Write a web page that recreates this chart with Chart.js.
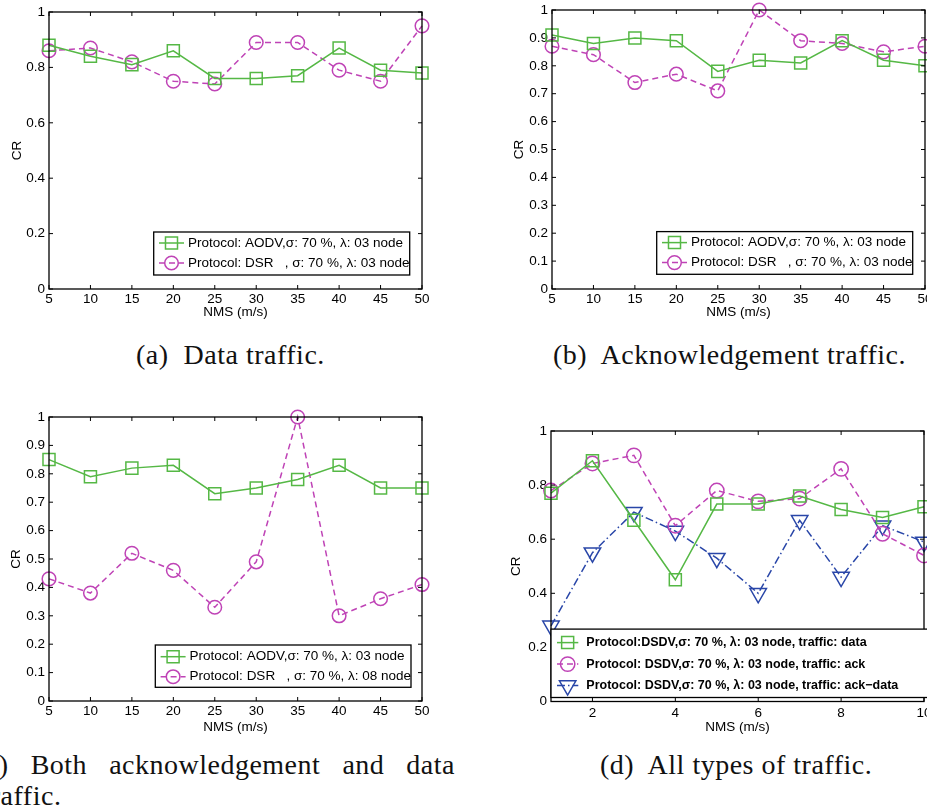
<!DOCTYPE html>
<html>
<head>
<meta charset="utf-8">
<script src="https://cdn.jsdelivr.net/npm/chart.js@4.4.1/dist/chart.umd.min.js"></script>
<style>
  html, body { margin: 0; padding: 0; background: #fff; }
  body { width: 927px; height: 811px; overflow: hidden; position: relative; }
  canvas { position: absolute; }
  .cap {
    position: absolute;
    font-family: 'Liberation Serif', 'Times New Roman', serif;
    font-size: 28px;
    line-height: 28px;
    letter-spacing: 0.5px;
    white-space: pre;
    color: #111;
  }
  #cap-c1 { text-align: justify; text-align-last: justify; white-space: normal; }
</style>
</head>
<body>
<div class="cap" style="left:136px;top:341px">(a)  Data traffic.</div>
<div class="cap" style="left:553px;top:341px">(b)  Acknowledgement traffic.</div>
<div class="cap" id="cap-c1" style="left:-24px;top:751px;width:479px">(c) Both acknowledgement and data</div>
<div class="cap" style="left:-17.5px;top:782px">traffic.</div>
<div class="cap" style="left:600px;top:751px">(d)  All types of traffic.</div>
<script>
// x values / ticks
const nms = [5, 10, 15, 20, 25, 30, 35, 40, 45, 50];
const nmsTicks = [5, 10, 15, 20, 25, 30, 35, 40, 45, 50];
const steps = [1, 2, 3, 4, 5, 6, 7, 8, 9, 10];
const stepTicks = [2, 4, 6, 8, 10];
const crTicks = [0, 0.2, 0.4, 0.6, 0.8, 1];
const crTicksFine = [0, 0.1, 0.2, 0.3, 0.4, 0.5, 0.6, 0.7, 0.8, 0.9, 1];

// (a) data traffic
const dataAodv = [0.88, 0.84, 0.81, 0.86, 0.76, 0.76, 0.77, 0.87, 0.79, 0.78];
const dataDsr = [0.86, 0.87, 0.82, 0.75, 0.74, 0.89, 0.89, 0.79, 0.75, 0.95];
// (b) acknowledgement traffic
const ackAodv = [0.91, 0.88, 0.90, 0.89, 0.78, 0.82, 0.81, 0.89, 0.82, 0.80];
const ackDsr = [0.87, 0.84, 0.74, 0.77, 0.71, 1.00, 0.89, 0.88, 0.85, 0.87];
// (c) both
const bothAodv = [0.85, 0.79, 0.82, 0.83, 0.73, 0.75, 0.78, 0.83, 0.75, 0.75];
const bothDsr = [0.43, 0.38, 0.52, 0.46, 0.33, 0.49, 1.00, 0.30, 0.36, 0.41];
// (d) all types, DSDV
const dsdvData = [0.77, 0.89, 0.67, 0.45, 0.73, 0.73, 0.76, 0.71, 0.68, 0.72];
const dsdvAck = [0.78, 0.88, 0.91, 0.65, 0.78, 0.74, 0.75, 0.86, 0.62, 0.54];
const dsdvAckData = [0.28, 0.55, 0.70, 0.63, 0.53, 0.40, 0.67, 0.46, 0.65, 0.59];

const labelAodv = 'Protocol: AODV,σ: 70 %, λ: 03 node';
const labelDsr3 = 'Protocol: DSR   , σ: 70 %, λ: 03 node';
const labelDsr8 = 'Protocol: DSR   , σ: 70 %, λ: 08 node';
const labelsD = [
  'Protocol:DSDV,σ: 70 %, λ: 03 node, traffic: data',
  'Protocol: DSDV,σ: 70 %, λ: 03 node, traffic: ack',
  'Protocol: DSDV,σ: 70 %, λ: 03 node, traffic: ack−data',
];

const GREEN = '#55b845';
const MAGENTA = '#bf43b6';
const BLUE = '#2946a8';

Chart.defaults.font.family = "'Liberation Sans', Arial, sans-serif";
Chart.defaults.font.size = 13.5;
Chart.defaults.color = '#000';

const squareStyle = { color: GREEN, dash: [], point: 'rect', r: 8.5, rot: 0 };
const circleStyle = { color: MAGENTA, dash: [6, 4], point: 'circle', r: 6.8, rot: 0 };
const triStyle = { color: BLUE, dash: [8, 3, 1.5, 3], point: 'triangle', r: 9.5, rot: 180 };

const series = (label, xs, ys, st) => ({
  label,
  data: xs.map((x, i) => ({ x, y: ys[i] })),
  borderColor: st.color,
  borderWidth: 1.5,
  borderDash: st.dash,
  pointStyle: st.point,
  pointRadius: st.r,
  pointHoverRadius: st.r,
  pointRotation: st.rot,
  pointBorderColor: st.color,
  pointBackgroundColor: 'rgba(0,0,0,0)',
  pointBorderWidth: 1.5,
  tension: 0,
  fill: false,
  clip: false,
});

// inward ticks, box frame and a matlab-like legend box
const frame = {
  id: 'frame',
  afterDatasetsDraw(chart) {
    const { ctx, chartArea: a, scales: { x, y } } = chart;
    ctx.save();
    ctx.strokeStyle = '#000';
    ctx.lineWidth = 1;
    ctx.beginPath();
    x.ticks.forEach((t) => {
      const px = x.getPixelForValue(t.value);
      ctx.moveTo(px, a.bottom); ctx.lineTo(px, a.bottom - 4);
      ctx.moveTo(px, a.top); ctx.lineTo(px, a.top + 4);
    });
    y.ticks.forEach((t) => {
      const py = y.getPixelForValue(t.value);
      ctx.moveTo(a.left, py); ctx.lineTo(a.left + 4, py);
      ctx.moveTo(a.right, py); ctx.lineTo(a.right - 4, py);
    });
    ctx.stroke();
    ctx.lineWidth = 1.3;
    ctx.strokeRect(a.left, a.top, a.right - a.left, a.bottom - a.top);
    ctx.restore();
  },
  afterDraw(chart, args, opts) {
    const L = opts.legend;
    if (!L) return;
    const { ctx, chartArea: a } = chart;
    const left = L.left != null ? a.left + L.left : a.right - L.right - L.width;
    const top = a.bottom - L.bottom - L.height;
    ctx.save();
    ctx.fillStyle = '#fff';
    ctx.fillRect(left, top, L.width, L.height);
    ctx.strokeStyle = '#000';
    ctx.lineWidth = 1.3;
    ctx.strokeRect(left, top, L.width, L.height);
    ctx.font = L.font;
    ctx.textBaseline = 'middle';
    ctx.textAlign = 'left';
    chart.data.datasets.forEach((ds, i) => {
      const cy = top + L.firstRow + i * L.rowGap;
      ctx.strokeStyle = ds.borderColor;
      ctx.lineWidth = ds.borderWidth;
      ctx.setLineDash(ds.borderDash);
      ctx.beginPath();
      ctx.moveTo(left + L.lineX, cy);
      ctx.lineTo(left + L.lineX + L.lineLen, cy);
      ctx.stroke();
      ctx.setLineDash([]);
      ctx.fillStyle = 'rgba(0,0,0,0)';
      ctx.lineWidth = ds.pointBorderWidth;
      Chart.helpers.drawPoint(ctx, {
        pointStyle: ds.pointStyle,
        rotation: ds.pointRotation,
        radius: ds.pointRadius,
        borderWidth: ds.pointBorderWidth,
      }, left + L.lineX + L.lineLen / 2, cy);
      ctx.fillStyle = '#000';
      ctx.fillText(ds.label, left + L.textX, cy);
    });
    ctx.restore();
  },
};

function makeChart(g, xRange, xTicks, yTicks, datasets, legend) {
  const canvas = document.createElement('canvas');
  canvas.width = g.width;
  canvas.height = g.height;
  canvas.style.left = g.left + 'px';
  canvas.style.top = g.top + 'px';
  document.body.appendChild(canvas);
  return new Chart(canvas, {
    type: 'line',
    data: { datasets },
    plugins: [frame],
    options: {
      responsive: false,
      animation: false,
      devicePixelRatio: 1,
      layout: { padding: { left: 0, top: g.plotY, right: g.width - g.plotX - g.plotW, bottom: 0 } },
      plugins: { legend: { display: false }, tooltip: { enabled: false }, frame: { legend } },
      scales: {
        x: {
          type: 'linear',
          min: xRange[0],
          max: xRange[1],
          grid: { display: false, drawTicks: false },
          border: { display: false },
          ticks: { padding: g.xTickPad, maxRotation: 0, callback: (v) => String(v) },
          afterBuildTicks: (s) => { s.ticks = xTicks.map((v) => ({ value: v })); },
          afterFit: (s) => {
            s.height = g.height - g.plotY - g.plotH;
            s.paddingLeft = 0; s.paddingRight = 0;
          },
          title: { display: true, text: 'NMS (m/s)', padding: { top: 0, bottom: g.xTitlePad } },
        },
        y: {
          type: 'linear',
          min: 0,
          max: 1,
          grid: { display: false, drawTicks: false },
          border: { display: false },
          ticks: { padding: g.yTickPad, callback: (v) => String(v) },
          afterBuildTicks: (s) => { s.ticks = yTicks.map((v) => ({ value: v })); },
          afterFit: (s) => {
            s.width = g.plotX;
            s.paddingTop = 0; s.paddingBottom = 0;
          },
          title: { display: true, text: 'CR', padding: { top: g.yTitlePad, bottom: 0 } },
        },
      },
    },
  });
}

const legendPair = { font: "13.5px 'Liberation Sans', Arial, sans-serif", lineX: 5.3, lineLen: 25, textX: 34.3, firstRow: 11, rowGap: 20 };

makeChart(
  { left: 0, top: 0, width: 440, height: 320, plotX: 49, plotY: 12, plotW: 373, plotH: 277, xTickPad: 2, yTickPad: 4, xTitlePad: 0, yTitlePad: 9 },
  [5, 50], nmsTicks, crTicks,
  [series(labelAodv, nms, dataAodv, squareStyle), series(labelDsr3, nms, dataDsr, circleStyle)],
  { ...legendPair, right: 12.3, bottom: 14, width: 256, height: 43 },
);

makeChart(
  { left: 500, top: 0, width: 460, height: 320, plotX: 52, plotY: 7, plotW: 373, plotH: 282, xTickPad: 2, yTickPad: 4, xTitlePad: 0, yTitlePad: 11 },
  [5, 50], nmsTicks, crTicksFine,
  [series(labelAodv, nms, ackAodv, squareStyle), series(labelDsr3, nms, ackDsr, circleStyle)],
  { ...legendPair, right: 12.3, bottom: 14.7, width: 256, height: 42.7 },
);

makeChart(
  { left: 0, top: 400, width: 440, height: 335, plotX: 49, plotY: 17, plotW: 373, plotH: 284, xTickPad: 2.5, yTickPad: 4, xTitlePad: 0, yTitlePad: 8.6 },
  [5, 50], nmsTicks, crTicksFine,
  [series(labelAodv, nms, bothAodv, squareStyle), series(labelDsr8, nms, bothDsr, circleStyle)],
  { ...legendPair, right: 11, bottom: 13.7, width: 255.7, height: 42.3, firstRow: 11.7 },
);

makeChart(
  { left: 500, top: 420, width: 460, height: 315, plotX: 51, plotY: 9, plotW: 373, plotH: 272.5, xTickPad: 3.7, yTickPad: 4, xTitlePad: 0, yTitlePad: 8.6 },
  [1, 10], stepTicks, crTicks,
  [
    series(labelsD[0], steps, dsdvData, squareStyle),
    series(labelsD[1], steps, dsdvAck, { ...circleStyle, r: 7.2 }),
    series(labelsD[2], steps, dsdvAckData, triStyle),
  ],
  { font: "bold 12.5px 'Liberation Sans', Arial, sans-serif", left: 0, bottom: 4, width: 420, height: 68.4, lineX: 6, lineLen: 21.3, textX: 35.3, firstRow: 13.5, rowGap: 21.5 },
);
</script>
</body>
</html>
